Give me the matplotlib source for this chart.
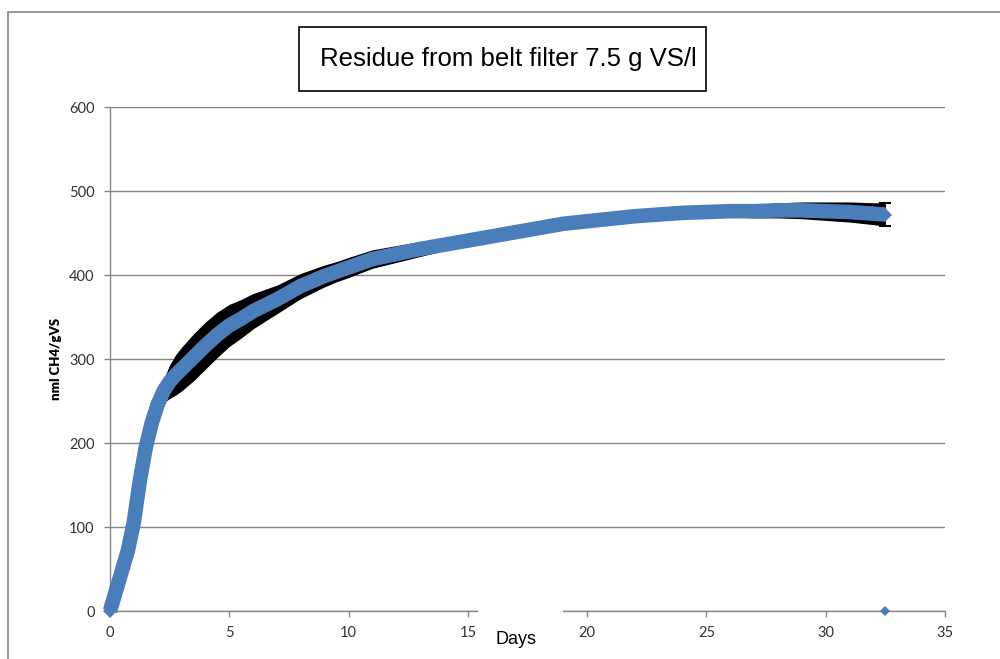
import matplotlib
matplotlib.use("Agg")
import matplotlib.pyplot as plt
from matplotlib.patches import Rectangle

# Donnees
# -----------------------------
days = [0, 0.25, 0.5, 0.75, 1.0, 1.25, 1.5, 1.75, 2.0, 2.25, 2.5, 2.75, 3.0,
        3.5, 4.0, 4.5, 5.0, 5.5, 6.0, 6.5, 7.0, 7.5, 8.0, 8.5, 9.0, 9.5, 10.0,
        11, 12, 13, 14, 15, 16, 17, 18, 19, 20, 21, 22, 23, 24, 25, 26, 27,
        28, 29, 30, 31, 32, 32.5]
ch4 = [0, 24, 48, 72, 106, 155, 195, 224, 246, 262, 273, 281, 288,
       302, 316, 329, 340, 348, 357, 364, 371, 379, 387, 393, 399, 404, 409,
       419, 425, 431, 436, 441, 446, 451, 456, 461, 464, 467, 470, 472, 474,
       475, 476, 476, 477, 477, 476, 475, 473, 472]
ch4_err = [0, 2, 2, 3, 3, 3, 4, 6, 9, 14, 20, 24, 26,
           28, 28, 27, 25, 23, 21, 19, 17, 16, 15, 14, 13, 12, 12,
           11, 10, 9, 7, 6, 6, 6, 6, 6, 6, 6, 6, 6, 7,
           7, 7, 8, 9, 10, 11, 12, 13, 14]

# point isole sur l'axe
extra_day = [32.5]
extra_val = [0]

title = "Residue from belt filter 7.5 g VS/l"
blue = "#4A7EBB"
grey = "#868686"

fig = plt.figure(figsize=(10, 6.59), dpi=100)
ax = fig.add_axes([0.110, 0.0728, 0.835, 0.7648])

# barres d'erreur (noir, derriere la serie)
lo = [v - e for v, e in zip(ch4, ch4_err)]
hi = [v + e for v, e in zip(ch4, ch4_err)]
ax.fill_between(days, lo, hi, color="black", linewidth=0, zorder=2)
ax.errorbar(days, ch4, yerr=ch4_err, fmt="none", ecolor="black",
            elinewidth=1.2, capsize=4, capthick=1.5, zorder=2,
            errorevery=(len(days) - 1, 1))

ax.plot(days, ch4, color=blue, linewidth=10.5, marker="D", markersize=7.5,
        markeredgewidth=0, solid_capstyle="butt", solid_joinstyle="round",
        zorder=3, clip_on=False)
ax.plot(extra_day, extra_val, linestyle="none", marker="D", markersize=5.5,
        color=blue, markeredgewidth=0, zorder=4, clip_on=False)

ax.set_xlim(0, 35)
ax.set_ylim(0, 600)
ax.set_xticks([0, 5, 10, 15, 20, 25, 30, 35])
ax.set_yticks([0, 100, 200, 300, 400, 500, 600])
ax.yaxis.grid(True, color=grey, linewidth=1)
ax.set_axisbelow(True)
for s in ["top", "right"]:
    ax.spines[s].set_visible(False)
for s in ["left", "bottom"]:
    ax.spines[s].set_color(grey)
    ax.spines[s].set_linewidth(1)
ax.tick_params(axis="both", colors=grey, length=4, width=1, pad=7,
               labelsize=10.5, labelcolor="#333333")
for lab in ax.get_xticklabels() + ax.get_yticklabels():
    lab.set_family("Lato")

ax.set_ylabel("nml CH4/gVS", fontsize=9.5, fontweight="heavy", family="Lato")
ax.yaxis.set_label_coords(-0.058, 0.5)

# cadre exterieur
fig.add_artist(Rectangle((0.0077, -0.1), 1.2, 0.1 + 1 - 11.7 / 659,
                         transform=fig.transFigure, fill=False,
                         edgecolor=grey, linewidth=1.2, zorder=0))

# boite du titre
fig.add_artist(Rectangle((0.299, 1 - 90.7 / 659), 0.407, 63.4 / 659,
                         transform=fig.transFigure, facecolor="white",
                         edgecolor="black", linewidth=1.2, zorder=5))
fig.text(0.508, 1 - 59 / 659, title, ha="center", va="center",
         fontsize=18.5, family="Liberation Sans", zorder=6)

# etiquette Days dans une boite blanche
fig.add_artist(Rectangle((0.478, 0), 0.085, 57 / 659,
                         transform=fig.transFigure, facecolor="white",
                         edgecolor="none", zorder=10))
fig.text(0.516, 1 - 644 / 659, "Days", ha="center", va="baseline",
         fontsize=13, family="Liberation Sans", zorder=11)

fig.savefig("out.png", dpi=100)
